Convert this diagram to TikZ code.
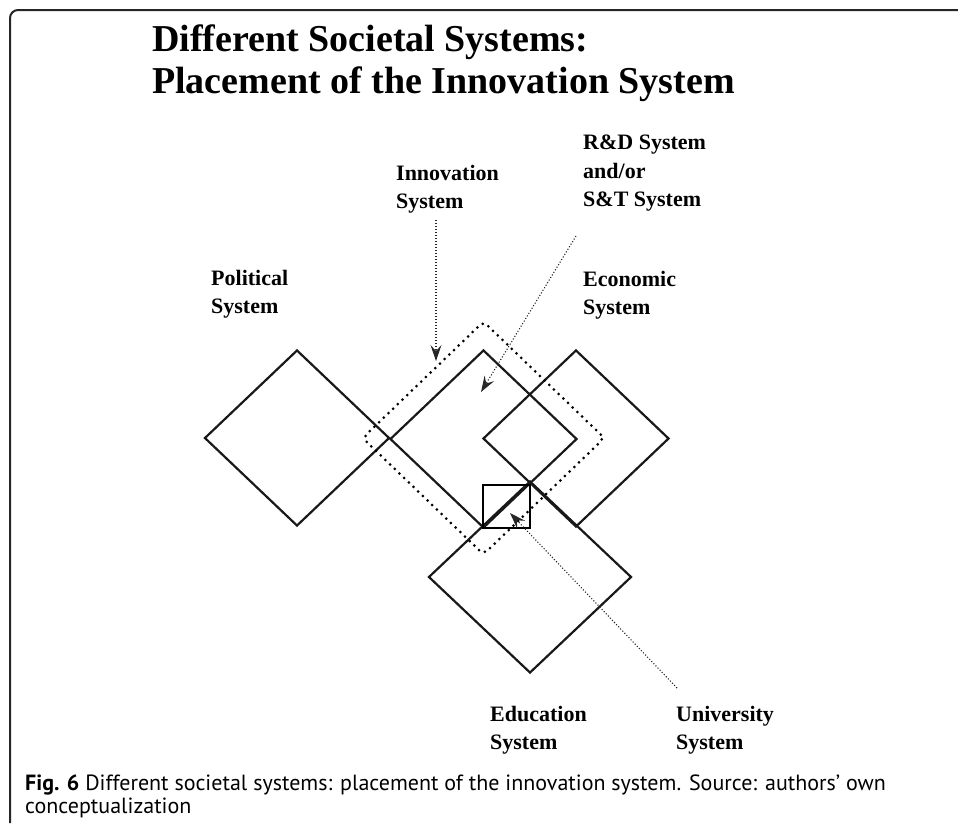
\documentclass[tikz,border=0pt]{standalone}
\usepackage{fontspec}
\setmainfont{Liberation Serif}
\newfontfamily\capfont{PT Sans}
\usetikzlibrary{positioning}
\usetikzlibrary{arrows.meta}
\usepgflibrary{shapes.geometric}
\tikzset{
    sysborder/.style = {
        draw, diamond, inner sep=0pt, line width=2.2pt, black!90
    },
    syslabel/.style = {
        anchor=north west, align=left, inner sep=0pt, font=\fontsize{22}{28.5}\selectfont\bfseries
    },
    pointer/.style = {
        line width=1.1pt, dash pattern=on 1.1pt off 1.9pt, black!85,
        -{Stealth[length=16pt, width=11pt, inset=6pt]}
    },
}

\begin{document}
\begin{tikzpicture}[x=1pt, y=-1pt]
        \useasboundingbox (0,0) rectangle (958,823);
        % Frame 
        \draw[line width=2pt, rounded corners=8pt, black!85] (10,823) -- (10,10) -- (958,10);

        % Title 
        \node[anchor=north west, align=left, inner sep=0pt, font=\fontsize{38}{42}\selectfont\bfseries] (title) at (152,25)
            {Different Societal Systems:\\Placement of the Innovation System};

        % Place the systems 
        \node[sysborder, minimum width=185, minimum height=176] (political) at (297,438) {};
        \node[sysborder, minimum width=187, minimum height=178] (rnd) at (483.5,439) {};
        \node[sysborder, minimum width=186, minimum height=177] (economic) at (576,438.5) {};
        \node[sysborder, minimum width=203, minimum height=192] (education) at (530,577) {};
        \node[draw, diamond, inner sep=0pt, minimum width=243, minimum height=234, rounded corners=5pt,
              line width=3pt, line cap=round, dash pattern=on 0pt off 6.5pt] (innovation) at (483.5,438) {};
        \node[draw, rectangle, inner sep=0pt, minimum width=47, minimum height=43, line width=1.5pt] (university) at (506.5,506.5) {};

        % Labels 
        \node[syslabel] (politicalLabel) at (211,270) {Political\\System};
        \node[syslabel] (innovationLabel) at (396,165) {Innovation\\System};
        \node[syslabel] (rndLabel) at (583,135) {R\&D System\\and/or\\S\&T System};
        \node[syslabel] (economicLabel) at (583,271) {Economic\\System};
        \node[syslabel] (educationLabel) at (490,706) {Education\\System};
        \node[syslabel] (universityLabel) at (676,706) {University\\System};

        % Draw connections 
        \coordinate (innoTail) at (436,220);
        \coordinate (innoTip) at (436,361);
        \coordinate (rndTail) at (576,236);
        \coordinate (rndTip) at (481,392);
        \coordinate (uniTail) at (677,688);
        \coordinate (uniTip) at (510,513);
        \draw[pointer] (innoTail) -- (innoTip);
        \draw[pointer] (rndTail) -- (rndTip);
        \draw[pointer] (uniTail) -- (uniTip);

        % Caption 
        \node[anchor=north west, align=left, inner sep=0pt, font=\capfont\fontsize{22}{22.5}\selectfont] (caption) at (25,775)
            {{\bfseries Fig. 6} Different societal systems: placement of the innovation system. Source: authors’ own\\conceptualization};
    \end{tikzpicture}
\end{document}
